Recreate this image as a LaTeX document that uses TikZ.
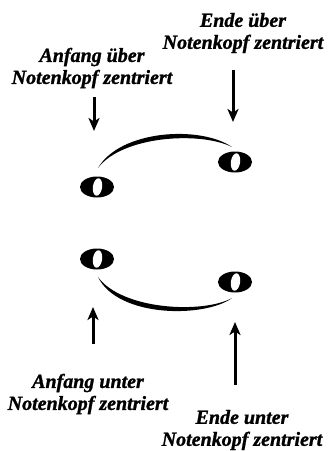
\documentclass[tikz,border=0pt]{standalone}
\usepackage{fontspec}
\setmainfont{Liberation Serif}
\usetikzlibrary{arrows.meta}
\tikzset{
  lbl/.style={align=center, font=\fontsize{20}{22}\selectfont\bfseries\itshape\addfontfeatures{FakeBold=1.2}, inner sep=0pt},
  pointer/.style={line width=3pt, -{Stealth[length=13pt,width=11pt,inset=3.5pt]}},
  notehead/.pic={
    \fill[black] (0,0) ellipse [x radius=17, y radius=10.5];
    \fill[white] (0.5,0) ellipse [x radius=4.6, y radius=8.8, rotate=-8];
  }
}
\begin{document}
\begin{tikzpicture}[x=1pt, y=-1pt]
  \useasboundingbox (0,0) rectangle (328,451);

  % --- slur above the note heads ---
  \node[lbl] (t1) at (243,33) {Ende über\\Notenkopf zentriert};
  \node[lbl] (t2) at (92,68) {Anfang über\\Notenkopf zentriert};
  \coordinate (a1s) at (94,97);
  \coordinate (a1e) at (94,131);
  \coordinate (a2s) at (233,70);
  \coordinate (a2e) at (233,122);
  \draw[pointer] (a1s) -- (a1e);
  \draw[pointer] (a2s) -- (a2e);

  \pic at (97,187) {notehead};
  \pic at (235,162) {notehead};
  \coordinate (s1a) at (98,168);
  \coordinate (s1b) at (232,147);
  \fill[black] (s1a) .. controls (120,130) and (200,125) .. (s1b)
                    .. controls (200,131) and (122,136) .. cycle;

  % --- slur below the note heads ---
  \pic at (97,259) {notehead};
  \pic at (235,282) {notehead};
  \coordinate (s2a) at (98,277);
  \coordinate (s2b) at (232,298);
  \fill[black] (s2a) .. controls (118,318) and (205,318) .. (s2b)
                    .. controls (203,314) and (122,310) .. cycle;

  \coordinate (a3s) at (93,344);
  \coordinate (a3e) at (93,307);
  \coordinate (a4s) at (235,385);
  \coordinate (a4e) at (235,322);
  \draw[pointer] (a3s) -- (a3e);
  \draw[pointer] (a4s) -- (a4e);
  \node[lbl] (t3) at (88,394) {Anfang unter\\Notenkopf zentriert};
  \node[lbl] (t4) at (242,430) {Ende unter\\Notenkopf zentriert};
\end{tikzpicture}
\end{document}
